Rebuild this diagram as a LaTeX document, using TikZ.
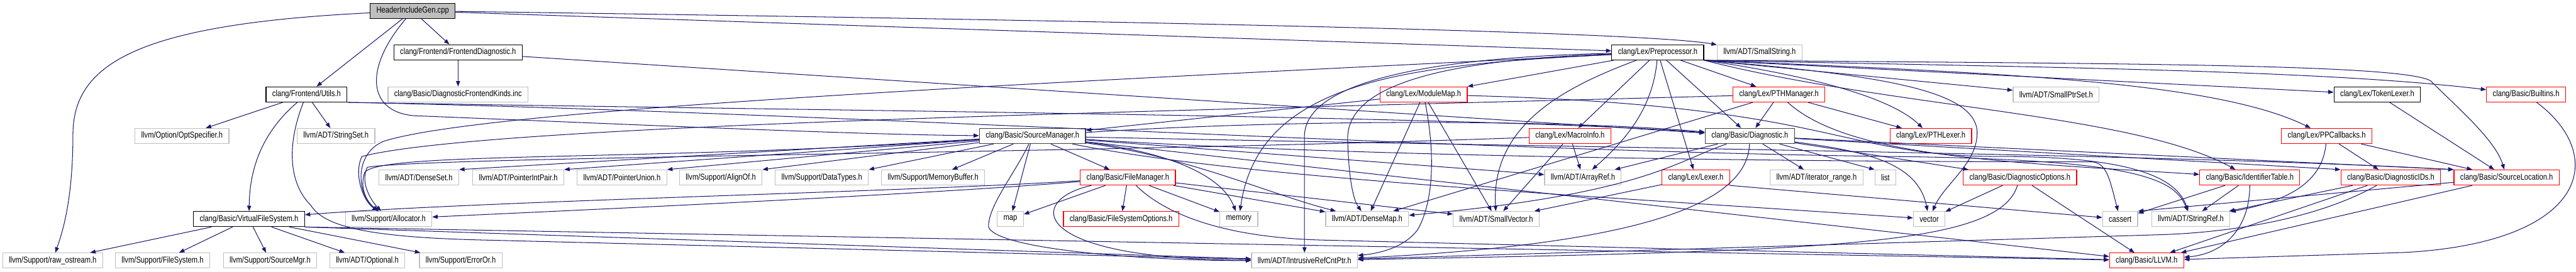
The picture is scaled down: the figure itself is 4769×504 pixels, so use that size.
\documentclass[tikz,border=0pt]{standalone}
\usepackage{fontspec}
\newfontfamily\graphfont{Liberation Sans}[FakeStretch=0.82]
\usepackage{tikz}
\usetikzlibrary{arrows.meta}
\definecolor{edgeblue}{HTML}{191970}
\definecolor{boxgray}{HTML}{BFBFBF}

\begin{document}
\begin{tikzpicture}[x=1pt, y=-1pt,
    every node/.style={font=\graphfont\fontsize{15.9}{19}\selectfont, minimum height=28pt, inner xsep=11.5pt, inner ysep=0pt, line width=1.4pt, fill=white},
    file/.style={draw=black},
    hub/.style={draw=black!75, line width=1.7pt},
    ext/.style={draw=boxgray},
    trunc/.style={draw=red},
    dep/.style={draw=edgeblue, line width=1.2pt, -{Triangle[length=10pt,width=7.5pt]}}]
        \useasboundingbox (0,0) rectangle (4769,504);

        % Row 0
        \node[file, fill=boxgray] (hig) at (764,20) {HeaderIncludeGen.cpp};

        % Row 1
        \node[file] (fediag) at (848,97) {clang/Frontend/FrontendDiagnostic.h};
        \node[file] (pp) at (3069,97) {clang/Lex/Preprocessor.h};
        \node[ext] (smallstr) at (3257.5,97) {llvm/ADT/SmallString.h};

        % Row 2
        \node[file] (utils) at (567.5,175) {clang/Frontend/Utils.h};
        \node[ext] (dfkinds) at (848,175) {clang/Basic/DiagnosticFrontendKinds.inc};
        \node[trunc] (modmap) at (2635.5,175) {clang/Lex/ModuleMap.h};
        \node[trunc] (pthmgr) at (3293.5,175) {clang/Lex/PTHManager.h};
        \node[ext] (smallptr) at (3806.5,175) {llvm/ADT/SmallPtrSet.h};
        \node[file] (toklex) at (4401,175) {clang/Lex/TokenLexer.h};
        \node[trunc] (builtins) at (4676.5,175) {clang/Basic/Builtins.h};

        % Row 3
        \node[ext] (optspec) at (337,252) {llvm/Option/OptSpecifier.h};
        \node[ext] (stringset) at (622,252) {llvm/ADT/StringSet.h};
        \node[hub] (srcmgr) at (1911.5,252) {clang/Basic/SourceManager.h};
        \node[trunc] (macroinfo) at (2906.5,252) {clang/Lex/MacroInfo.h};
        \node[hub] (diag) at (3239.5,252) {clang/Basic/Diagnostic.h};
        \node[trunc] (pthlex) at (3574.5,252) {clang/Lex/PTHLexer.h};
        \node[trunc] (ppcb) at (4307.5,252) {clang/Lex/PPCallbacks.h};

        % Row 4
        \node[ext] (denseset) at (775.5,329) {llvm/ADT/DenseSet.h};
        \node[ext] (ptrintpair) at (959.5,329) {llvm/ADT/PointerIntPair.h};
        \node[ext] (ptrunion) at (1151.5,329) {llvm/ADT/PointerUnion.h};
        \node[ext] (alignof) at (1334.5,329) {llvm/Support/AlignOf.h};
        \node[ext] (datatypes) at (1521.5,329) {llvm/Support/DataTypes.h};
        \node[ext] (membuf) at (1727.5,329) {llvm/Support/MemoryBuffer.h};
        \node[trunc] (filemgr) at (2088,329) {clang/Basic/FileManager.h};
        \node[ext] (arrayref) at (2930.5,329) {llvm/ADT/ArrayRef.h};
        \node[trunc] (lexer) at (3139.5,329) {clang/Lex/Lexer.h};
        \node[ext] (itrange) at (3363,329) {llvm/ADT/iterator\_range.h};
        \node[ext] (list) at (3490.5,329) {list};
        \node[trunc] (diagopts) at (3739.5,329) {clang/Basic/DiagnosticOptions.h};
        \node[trunc] (identtab) at (4165,329) {clang/Basic/IdentifierTable.h};
        \node[trunc] (diagids) at (4426,329) {clang/Basic/DiagnosticIDs.h};
        \node[trunc] (srcloc) at (4640.5,329) {clang/Basic/SourceLocation.h};

        % Row 5
        \node[file] (vfs) at (461,406) {clang/Basic/VirtualFileSystem.h};
        \node[ext] (allocator) at (719.5,406) {llvm/Support/Allocator.h};
        \node[ext] (map) at (1870.5,406) {map};
        \node[trunc] (fsopts) at (2075.5,406) {clang/Basic/FileSystemOptions.h};
        \node[ext] (memory) at (2293.5,406) {memory};
        \node[ext] (densemap) at (2531,406) {llvm/ADT/DenseMap.h};
        \node[ext] (smallvec) at (2770,406) {llvm/ADT/SmallVector.h};
        \node[ext] (vector) at (3571.5,406) {vector};
        \node[ext] (cassert) at (3925,406) {cassert};
        \node[ext] (strref) at (4056,406) {llvm/ADT/StringRef.h};

        % Row 6
        \node[ext] (rawos) at (97.5,483) {llvm/Support/raw\_ostream.h};
        \node[ext] (filesys) at (301,483) {llvm/Support/FileSystem.h};
        \node[ext] (srcmgrllvm) at (500,483) {llvm/Support/SourceMgr.h};
        \node[ext] (optional) at (680,483) {llvm/ADT/Optional.h};
        \node[ext] (erroror) at (853,483) {llvm/Support/ErrorOr.h};
        \node[ext] (irc) at (2415,483) {llvm/ADT/IntrusiveRefCntPtr.h};
        \node[trunc] (llvmh) at (3974,483) {clang/Basic/LLVM.h};

        % HeaderIncludeGen.cpp
        \draw[dep] (hig) .. controls (250,45) and (135,120) .. (135,250) .. controls (135,380) and (112,440) .. (rawos);
        \draw[dep] (hig) -- (utils);
        \draw[dep] (hig) .. controls (670,130) and (680,215) .. (780,215) .. controls (1200,232) and (1600,250) .. (srcmgr);
        \draw[dep] (hig) -- (fediag);
        \draw[dep] (hig) -- (pp);
        \draw[dep] (hig) .. controls (2200,40) and (3050,60) .. (smallstr);

        % FrontendDiagnostic.h
        \draw[dep] (fediag) -- (dfkinds);
        \draw[dep] (fediag) -- (diag);

        % Utils.h
        \draw[dep] (utils) -- (optspec);
        \draw[dep] (utils) -- (stringset);
        \draw[dep] (utils) .. controls (480,250) and (462,320) .. (vfs);
        \draw[dep] (utils) .. controls (530,270) and (535,340) .. (575,380) .. controls (600,420) and (680,440) .. (900,445) -- (irc);
        \draw[dep] (utils.south east) .. controls (1500,205) and (2750,215) .. (diag);
        \draw[dep] (utils.south east) .. controls (1500,207) and (2700,280) .. (3500,290) .. controls (3950,295) and (4025,330) .. (strref);

        % VirtualFileSystem.h
        \draw[dep] (vfs) -- (rawos);
        \draw[dep] (vfs) -- (filesys);
        \draw[dep] (vfs) -- (srcmgrllvm);
        \draw[dep] (vfs) -- (optional);
        \draw[dep] (vfs) -- (erroror);
        \draw[dep] (vfs.south east) -- (irc);
        \draw[dep] (vfs.south east) -- (llvmh);

        % SourceManager.h
        \draw[dep] (srcmgr) .. controls (1200,300) and (700,280) .. (675,320) .. controls (665,350) and (680,375) .. (allocator);
        \draw[dep] (srcmgr) -- (denseset.north east);
        \draw[dep] (srcmgr) -- (ptrintpair.north east);
        \draw[dep] (srcmgr) -- (ptrunion.north east);
        \draw[dep] (srcmgr) -- (alignof.north east);
        \draw[dep] (srcmgr) -- (datatypes.north east);
        \draw[dep] (srcmgr) -- (membuf);
        \draw[dep] (srcmgr) -- (filemgr);
        \draw[dep] (srcmgr) -- (map);
        \draw[dep] (srcmgr) .. controls (2150,280) and (2260,320) .. (memory);
        \draw[dep] (srcmgr) .. controls (1880,320) and (1830,380) .. (1830,420) .. controls (1840,460) and (2100,483) .. (irc);
        \draw[dep] (srcmgr) .. controls (2400,220) and (2900,222) .. (diag);
        \draw[dep] (srcmgr) -- (llvmh);
        \draw[dep] (srcmgr) .. controls (3000,275) and (4000,285) .. (srcloc.north west);
        \draw[dep] (srcmgr) -- (arrayref);
        \draw[dep] (srcmgr) .. controls (2200,290) and (2350,360) .. (densemap);
        \draw[dep] (srcmgr) .. controls (2500,290) and (3300,300) .. (3870,300) .. controls (3900,300) and (3905,330) .. (cassert);
        \draw[dep] (srcmgr) .. controls (2300,330) and (2900,360) .. (vector);

        % FileManager.h
        \draw[dep] (filemgr) .. controls (1700,355) and (900,372) .. (vfs);
        \draw[dep] (filemgr) .. controls (1700,362) and (950,395) .. (allocator);
        \draw[dep] (filemgr) -- (map);
        \draw[dep] (filemgr) -- (fsopts);
        \draw[dep] (filemgr) -- (memory);
        \draw[dep] (filemgr) .. controls (1900,370) and (1900,480) .. (irc);
        \draw[dep] (filemgr) .. controls (2150,390) and (2250,440) .. (2450,445) -- (llvmh);
        \draw[dep] (filemgr) -- (densemap);
        \draw[dep] (filemgr) -- (smallvec);

        % Preprocessor.h
        \draw[dep] (pp) -- (modmap);
        \draw[dep] (pp) .. controls (2700,110) and (2490,150) .. (2495,260) .. controls (2497,330) and (2505,370) .. (densemap);
        \draw[dep] (pp) .. controls (2700,105) and (2420,140) .. (2415,250) -- (irc);
        \draw[dep] (pp) .. controls (2600,120) and (2330,150) .. (memory);
        \draw[dep] (pp) .. controls (2000,150) and (900,200) .. (710,262) .. controls (655,285) and (660,360) .. (allocator);
        \draw[dep] (pp) -- (macroinfo);
        \draw[dep] (pp) .. controls (3060,200) and (3010,260) .. (arrayref);
        \draw[dep] (pp) .. controls (2900,160) and (2760,230) .. (smallvec);
        \draw[dep] (pp) -- (lexer);
        \draw[dep] (pp) -- (diag);
        \draw[dep] (pp) -- (pthmgr);
        \draw[dep] (pp.south east) .. controls (3350,140) and (3500,180) .. (pthlex);
        \draw[dep] (pp.south east) -- (smallptr);
        \draw[dep] (pp.south east) .. controls (3500,140) and (3650,170) .. (3660,240) .. controls (3665,300) and (3600,340) .. (vector);
        \draw[dep] (pp.south east) -- (toklex);
        \draw[dep] (pp.south east) .. controls (3800,125) and (4300,130) .. (builtins);
        \draw[dep] (pp.south east) .. controls (3700,135) and (4100,150) .. (ppcb);
        \draw[dep] (pp.south east) .. controls (3500,200) and (3950,210) .. (identtab);
        \draw[dep] (pp.south east) .. controls (3900,118) and (4450,118) .. (4500,150) .. controls (4550,200) and (4620,260) .. (srcloc);

        % ModuleMap.h
        \draw[dep] (modmap) -- (srcmgr);
        \draw[dep] (modmap) -- (densemap);
        \draw[dep] (modmap) .. controls (2660,300) and (2650,380) .. (2625,425) .. controls (2600,460) and (2550,470) .. (irc);
        \draw[dep] (modmap) -- (smallvec);
        \draw[dep] (modmap) .. controls (3400,195) and (3400,290) .. (3700,290) .. controls (3950,290) and (4030,330) .. (strref);

        % MacroInfo.h
        \draw[dep] (macroinfo) .. controls (2000,285) and (800,290) .. (680,310) .. controls (665,340) and (690,375) .. (allocator);
        \draw[dep] (macroinfo) -- (arrayref);
        \draw[dep] (macroinfo) -- (smallvec);

        % PTHManager.h
        \draw[dep] (pthmgr) -- (diag);
        \draw[dep] (pthmgr) -- (pthlex);
        \draw[dep] (pthmgr) -- (densemap);
        \draw[dep] (pthmgr) .. controls (2200,205) and (900,230) .. (670,290) .. controls (655,320) and (670,370) .. (allocator);
        \draw[dep] (pthmgr) .. controls (3420,290) and (3700,300) .. (identtab);

        % Diagnostic.h
        \draw[dep] (diag) -- (itrange);
        \draw[dep] (diag) -- (list.north west);
        \draw[dep] (diag) .. controls (3450,280) and (3550,300) .. (vector);
        \draw[dep] (diag) -- (diagopts);
        \draw[dep] (diag) -- (diagids.north west);
        \draw[dep] (diag) -- (srcloc.north west);
        \draw[dep] (diag) -- (arrayref);
        \draw[dep] (diag) .. controls (3100,300) and (3040,360) .. (densemap);
        \draw[dep] (diag) .. controls (3235,360) and (3100,450) .. (irc);

        % Lexer.h
        \draw[dep] (lexer) -- (smallvec);
        \draw[dep] (lexer.south east) -- (cassert);

        % DiagnosticOptions.h
        \draw[dep] (diagopts) -- (vector);
        \draw[dep] (diagopts) -- (llvmh);
        \draw[dep] (diagopts) .. controls (3700,455) and (3400,465) .. (irc);

        % IdentifierTable.h
        \draw[dep] (identtab) -- (strref);
        \draw[dep] (identtab) .. controls (4165,420) and (4120,470) .. (llvmh);
        \draw[dep] (identtab) -- (cassert);

        % DiagnosticIDs.h
        \draw[dep] (diagids) -- (strref);
        \draw[dep] (diagids) -- (llvmh);
        \draw[dep] (diagids) .. controls (4300,400) and (4150,430) .. (4000,435) -- (irc);

        % PPCallbacks.h, TokenLexer.h, Builtins.h, SourceLocation.h
        \draw[dep] (ppcb) .. controls (4300,330) and (4250,370) .. (strref);
        \draw[dep] (ppcb) -- (diagids);
        \draw[dep] (ppcb) -- (srcloc);
        \draw[dep] (toklex) -- (srcloc);
        \draw[dep] (builtins) .. controls (4830,290) and (4790,450) .. (4450,468) -- (llvmh);
        \draw[dep] (srcloc) -- (llvmh);
        \draw[dep] (srcloc) -- (cassert.north east);
    \end{tikzpicture}
\end{document}
